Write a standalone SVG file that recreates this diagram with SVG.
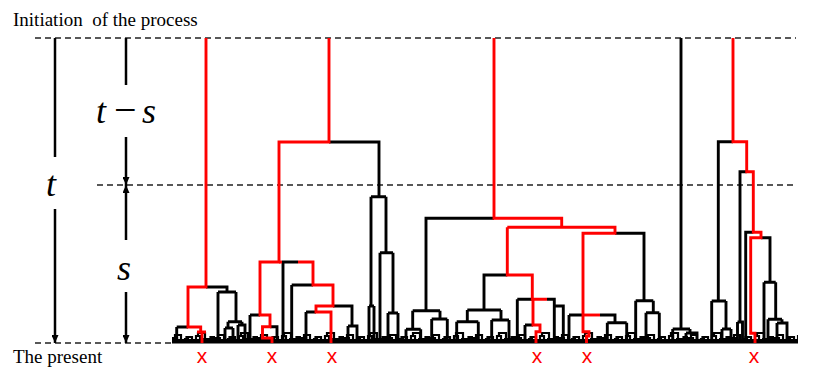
<svg xmlns="http://www.w3.org/2000/svg" width="830" height="383" viewBox="0 0 830 383">
<style>
.k{fill:none;stroke:#000;stroke-width:2.9}
.r{fill:none;stroke:#ff0000;stroke-width:2.9}
.d{fill:none;stroke:#222;stroke-width:1.5;stroke-dasharray:6 4}
.ax{fill:none;stroke:#000;stroke-width:2.5}
.lbl{font-family:"Liberation Serif","Times New Roman",serif;font-size:19px;fill:#000}
.it{font-family:"Liberation Serif","Times New Roman",serif;font-style:italic;font-size:36px;fill:#000}
.xm{font-family:"Liberation Sans",Arial,sans-serif;font-size:21px;fill:#ff0000;text-anchor:middle}
</style>
<defs>
<marker id="ah" viewBox="0 0 8 7" refX="8" refY="3.5" markerWidth="8" markerHeight="7" markerUnits="userSpaceOnUse" orient="auto">
<path d="M0,0 L8,3.5 L0,7 z" fill="#000"/>
</marker>
<pattern id="fringe" patternUnits="userSpaceOnUse" x="172" y="327" width="43" height="16">
<path d="M1 16 V11 H5 V16 M3 11 V8 H9 V16 M7 13 H11 V16 M13 16 V12 H16 V16 M14.5 12 V10 H20 V14 H18 V16 M20 14 H22 V16 M24 16 V9 H28 V13 H26 V16 M28 13 H30 V16 M26 9 V6 H33 V16 M31 12 H35 V16 M37 16 V12 H40 V16 M38.5 12 V10 H42 V16" fill="none" stroke="#000" stroke-width="2.2"/>
<rect x="0" y="12" width="43" height="4" fill="#000"/>
</pattern>
</defs>

<g id="guides">
<path class="d" d="M35 38 H796"/>
<path class="d" d="M97 185 H796"/>
<path class="d" d="M35 343 H172"/>
</g>

<g id="labels">
<text class="lbl" x="13" y="26" xml:space="preserve">Initiation  of the process</text>
<text class="lbl" x="13" y="363">The present</text>
</g>

<g id="axis-t">
<path class="ax" d="M55 38 V157"/>
<path class="ax" d="M55 209 V343" marker-end="url(#ah)"/>
<text class="it" x="46" y="196">t</text>
</g>

<g id="axis-t-s">
<path class="ax" d="M126 38 V85"/>
<path class="ax" d="M126 137 V185" marker-end="url(#ah)"/>
<text class="it" y="123"><tspan x="96">t</tspan><tspan x="114" font-style="normal" font-size="40">−</tspan><tspan x="142">s</tspan></text>
</g>

<g id="axis-s">
<path class="ax" d="M126 240 V185" marker-end="url(#ah)"/>
<path class="ax" d="M126 292 V343" marker-end="url(#ah)"/>
<text class="it" x="117" y="280">s</text>
</g>

<g id="base">
<rect x="172" y="327" width="626" height="16" fill="url(#fringe)"/>
<path d="M172 342.5 H798" stroke="#000" stroke-width="2"/>
</g>

<g id="connectors">
<g id="tree-a">
<path class="k" d="M206 287 H227 V292 M218 292 H236 M218 292 V343 M236 292 V321.7 M228 321.7 H242 M228 321.7 V328 M225 328 H233 M225 328 V343 M233 328 V343 M242 321.7 V325 M238 325 H245 V343 M238 325 V343"/>
<path class="k" d="M176.7 327 H188 M176.7 327 V343"/>
<path class="r" d="M206 38 V287 H188 V327 H200.7 V332"/>
<path class="r" d="M197 332 H206 M202 332 V343"/>
</g>
<g id="tree-b">
<path class="k" d="M329 142 H379 V196.7 M371 196.7 H386 M371 196.7 V306 M369 306 H374 M369 306 V343 M374 306 V343 M386 196.7 V252.7 M380 252.7 H393 M380 252.7 V343 M393 252.7 V313 M388 313 H398 M388 313 V343 M398 313 V343"/>
<path class="k" d="M282 262 H298 M283 262 V343 M291.7 285 H313 M291.7 285 V343 M333 306 H352 V326 M348 326 H357 V343 M348 326 V343 M306 312 H316 M306 312 V343 M250 315 H260 M250 315 V343 M270 326.7 H277 V343"/>
<path class="r" d="M329 38 V142 H279 V262 H260 V315 H270 V326.7 H262.5 V338 H272 V343"/>
<path class="r" d="M279 262 H282"/>
<path class="r" d="M298 262 H313 V285 H333 V306 H316 V312 H331 V343"/>
</g>
<g id="tree-c">
<path class="k" d="M494 218.3 H426 V310.7 M412.7 310.7 H440 M412.7 310.7 V329.3 M406 329.3 H420.7 M406 329.3 V343 M420.7 329.3 V343 M440 310.7 V319 M431.7 319 H447.3 M431.7 319 V343 M447.3 319 V343"/>
<path class="k" d="M507.3 275 H484 V310 M467.3 310 H501 M467.3 310 V321.7 M456.7 321.7 H478.3 M456.7 321.7 V343 M478.3 321.7 V343 M501 310 V320 M491.7 320 H509 M491.7 320 V343 M509 320 V343"/>
<path class="k" d="M517.3 299.3 H532.3 M517.3 299.3 V343 M547 299.3 H554.3 V343 M554.3 306 H563.3 V343 M525 325 H533 M525 325 V343"/>
<path class="k" d="M615 233.3 H644 V300.7 M635.7 300.7 H653.3 M635.7 300.7 V343 M653.3 300.7 V312.7 M646 312.7 H659.3 M646 312.7 V343 M659.3 312.7 V343"/>
<path class="k" d="M569 315 H583 M569 315 V343 M600 315 H615 V322.7 M607.3 322.7 H626.7 M607.3 322.7 V343 M626.7 322.7 V343"/>
<path class="r" d="M494 38 V218.3 H561.7 V227.3"/>
<path class="r" d="M507.3 227.3 H615 V233.3 H583 V331.7 H589 V336 H586.5 V343"/>
<path class="r" d="M583 315 H600"/>
<path class="r" d="M507.3 227.3 V275 H532.3 V299.3 H547"/>
<path class="r" d="M533 299.3 V325 H540 V331.7 H536 V343"/>
</g>
<g id="tree-lone">
<path class="k" d="M681 38 V329 M672.7 329 H690 M672.7 329 V343 M690 329 V333 M686 333 H697 V343 M686 333 V343"/>
</g>
<g id="tree-d">
<path class="k" d="M733 141.7 H718.3 V301 M711.7 301 H726 M711.7 301 V343 M726 301 V329 M722 329 H731 M722 329 V343 M731 329 V343"/>
<path class="k" d="M746.7 171.7 H740 V322 M737.5 322 H742.5 V343 M737.5 322 V343"/>
<path class="k" d="M753.3 232.3 H745.7 V343"/>
<path class="k" d="M761 237.7 H770 V282.3 M764 282.3 H775.7 M764 282.3 V343 M775.7 282.3 V319.3 M768 319.3 H782 M768 319.3 V343 M782 319.3 V323 M777 323 H787 V343 M777 323 V343"/>
<path class="r" d="M733 38 V141.7 H746.7 V171.7 H753.3 V232.3 H761 V237.7 H750.7 V333.3 H755 V343"/>
</g>
</g>

<g id="marks">
<text class="xm" x="202" y="363">x</text>
<text class="xm" x="272" y="363">x</text>
<text class="xm" x="332" y="363">x</text>
<text class="xm" x="537" y="363">x</text>
<text class="xm" x="587" y="363">x</text>
<text class="xm" x="754" y="363">x</text>
</g>
</svg>
